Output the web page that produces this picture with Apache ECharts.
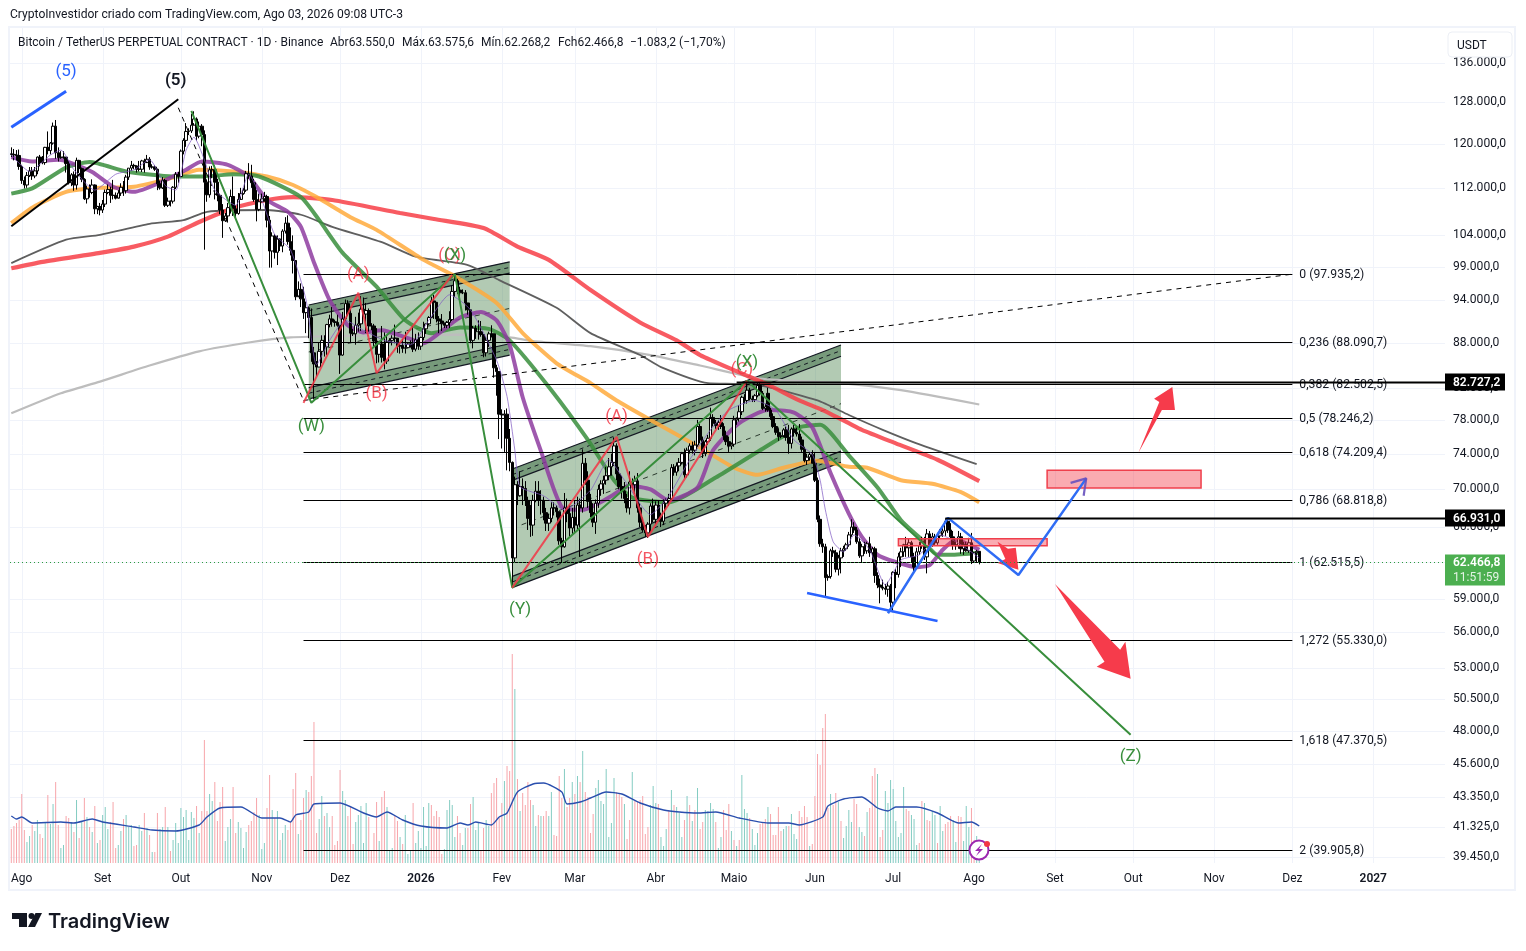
<!DOCTYPE html>
<html><head><meta charset="utf-8">
<script src="https://cdn.jsdelivr.net/npm/echarts@6/dist/echarts.min.js"></script>
<style>html,body{margin:0;padding:0;background:#fff}#c{width:1526px;height:951px}</style>
</head><body><div id="c"></div>
<script>
// ---- time axis: one category per day from 2025-07-28
const barCount = 550;
const timeTickIndex = [4,35,65,96,126,157,188,216,247,277,308,338,369,400,430,461,491,522];
const timeTickLabels = ['Ago','Set','Out','Nov','Dez','2026','Fev','Mar','Abr','Maio','Jun','Jul','Ago','Set','Out','Nov','Dez','2027'];

// ---- price axis
const priceTicks = [136000,128000,120000,112000,104000,99000,94000,88000,82000,78000,74000,70000,66000,62500,59000,56000,53000,50500,48000,45600,43350,41325,39450];
const priceTickLabels = ['136.000,0','128.000,0','120.000,0','112.000,0','104.000,0','99.000,0','94.000,0','88.000,0','82.000,0','78.000,0','74.000,0','70.000,0','66.000,0','62.500,0','59.000,0','56.000,0','53.000,0','50.500,0','48.000,0','45.600,0','43.350,0','41.325,0','39.450,0'];

// ---- candles, thousand USDT
const opens = [118.1,118.0,117.9,117.8,
115.8,113.3,112.5,114.2,115.0,114.1,115.0,117.5,116.5,116.5,119.3,118.7,120.1,123.3,118.3,117.4,117.5,117.5,116.3,112.9,114.3,112.5,116.9,115.4,113.5,110.1,111.8,111.2,112.5,108.4,108.8,
108.2,109.2,111.2,111.7,110.7,110.7,110.2,111.1,112.1,111.5,113.9,115.5,116.0,115.9,115.3,115.3,116.8,116.5,117.1,115.7,115.7,115.3,112.7,112.0,113.3,109.0,109.7,109.7,112.1,114.4,
114.0,118.6,120.6,122.3,122.4,123.5,124.7,121.4,123.3,121.7,113.0,110.8,115.2,115.2,113.0,110.7,108.2,106.4,107.2,108.6,110.5,108.4,107.6,110.0,111.0,111.6,114.5,114.1,112.9,110.0,108.3,
109.6,110.1,110.5,106.5,101.5,103.9,101.3,103.4,102.3,104.7,106.0,103.0,101.6,100.0,94.5,95.6,94.2,92.2,92.9,91.5,86.6,85.1,84.7,86.8,88.3,87.4,90.5,91.3,90.9,90.8,
90.4,86.3,91.3,93.5,92.1,89.3,89.2,90.4,90.6,92.7,92.0,92.5,90.3,90.3,88.2,86.4,87.8,86.0,85.5,88.1,88.3,88.6,88.6,87.5,87.6,87.2,87.3,87.8,87.8,87.1,88.4,
87.5,88.7,89.9,90.6,91.5,93.9,93.7,91.3,91.0,90.6,90.4,90.8,91.2,95.3,96.9,95.5,95.1,95.1,93.6,92.6,88.3,90.0,89.5,89.5,89.1,86.6,88.3,89.2,89.2,84.6,84.1,
78.7,78.6,78.7,75.8,73.0,62.9,70.5,69.3,70.3,70.1,68.8,66.9,66.2,68.8,69.8,68.8,68.8,67.5,66.4,66.9,68.0,68.0,67.6,64.6,64.0,68.0,67.4,65.9,
67.0,66.2,68.3,68.0,72.9,71,68.7,67.5,66.5,68.5,70,70.6,71,71.5,72.5,73,74.9,71.7,70.3,69.8,69,68,70.8,70.5,70.9,68,66.5,65.7,65.4,66.3,68.2,
66.8,68.3,67,66.6,68.5,68.8,69,72.4,71.9,72.6,73,74,71.6,74.4,74.9,74.4,75,77.2,75.6,74,75.4,75.8,78.3,77.6,77.3,77.7,77.2,76.1,75.4,74.9,
75.1,78,78.2,79,80.8,80.4,81.7,80.6,80.5,81,82.3,81.3,79.4,81.3,79.2,78.4,77.2,76.5,76,76.1,76.8,75.9,75.2,76.9,76.5,76.3,75.6,74.5,73.2,73.6,73.9,
72.9,71,66.8,64.3,64,61,61.1,63.6,63.4,61.8,62.9,63.6,63.8,64.2,65.2,66,65.7,64.5,63.1,64,63.6,64.3,63.4,63.8,61.2,60.3,60.1,60,59.9,60.2,
58.7,61.5,61.3,63,63.5,64.2,63.9,64.4,63,62,63.5,64.1,64.5,63,65.3,64.2,65,64.4,65.1,65.4,65.6,66.6,65.7,65,64.2,64.1,65,63.8,64.2,63.6,64.4,
62.6,63.4,63.55];
const highs = [119.3,119.0,118.8,118.9,
116.1,114.0,114.8,115.7,115.7,115.7,117.6,117.9,117.7,119.4,122.3,120.3,124.0,124.5,119.3,118.6,118.6,117.5,116.8,114.6,114.9,117.4,117.0,115.6,113.7,112.4,112.6,113.5,112.6,108.9,109.4,
109.9,111.7,112.6,112.2,113.4,111.2,111.6,112.8,113.2,114.3,115.5,116.8,116.3,116.0,116.8,117.0,117.2,117.9,117.5,116.2,116.0,115.4,113.3,113.9,113.6,110.3,109.8,112.3,114.8,114.8,
118.9,121.0,123.9,122.9,125.7,126.2,125.0,124.2,123.7,122.5,113.5,115.8,115.9,116.0,113.6,111.0,109.2,107.7,109.4,111.7,114.0,109.0,111.1,112.0,112.0,115.0,116.4,116.1,113.6,111.6,111.0,
111.0,111.3,110.8,107.2,104.5,104.2,104.0,103.5,105.0,107.0,107.3,105.3,104.0,99.5,96.8,96.5,96.0,93.8,93.1,92.8,87.4,85.5,88.0,89.0,89.0,90.6,91.9,93.0,91.2,91.9,
90.4,92.3,94.1,94.0,92.7,89.9,91.6,92.2,94.6,94.4,93.6,92.8,90.7,90.6,90.0,88.2,90.3,89.4,89.0,88.6,89.0,90.5,88.0,88.0,88.5,89.5,87.9,88.3,90.3,89.2,89.4,
88.8,90.9,90.6,91.7,94.5,94.8,93.5,91.7,92.0,90.8,91.0,92.4,96.2,97.9,97.2,96.0,95.6,95.5,93.3,92.7,90.3,90.4,91.1,91.0,89.1,88.8,89.5,90.4,88.7,85.0,84.0,
79.3,79.2,79.4,76.9,73.1,71.4,70.9,72.0,71.2,70.9,69.2,68.3,69.4,70.9,70.9,69.9,69.2,68.0,67.4,68.6,68.6,68.3,67.6,64.9,69.6,69.0,68.3,68.0,
68.8,69.2,69,74.5,73.5,72,69.5,68.5,68.9,70.5,71,71.5,72.5,73.5,74,75.9,75.2,72.5,71.5,70.8,69.5,72,71.2,71.5,71.8,68.5,67,66.2,66.5,68.5,69,
68.7,68.8,67.5,68.9,69,69.5,72.8,72.8,73,73.5,74.2,74.6,74.7,75.2,75.4,75.5,78,77.5,76,75.6,76.2,79.5,78.7,78,78,78.6,77.6,76.7,76,75.3,
78.5,78.3,79.8,81,81.2,82.9,82,81,81.2,82.7,82.6,81.6,80,82,79.5,78.8,77.6,77,76.5,77,77.2,77.4,77.1,77.4,77.2,77.5,76,74.8,74,74.2,74.4,
74.2,71.3,67.2,64.8,64.3,61.3,63.8,64,63.7,63.2,63.9,64.1,64.4,65.5,66.8,66.5,66,64.9,64.3,64.5,64.5,65,64,64,61.5,60.9,60.8,60.4,60.6,60.4,
61.6,61.8,63.4,63.9,64.3,65,64.8,64.6,63.4,63.9,64.5,65,65,65.8,65.6,65.4,65.3,65.4,65.8,65.9,66.9,66.9,66.4,65.6,64.6,65.6,65.4,64.5,64.5,64.9,65.4,
63.5,63.7,63.58];
const lows = [117.5,116.9,116.8,115.2,
112.7,111.9,112.0,113.9,113.4,113.7,114.4,115.8,116.2,116.1,118.0,118.0,119.8,117.2,116.7,117.2,117.2,114.7,112.6,112.3,111.5,111.7,114.6,113.0,109.9,109.3,110.3,110.9,107.5,107.5,107.3,
107.7,108.7,110.9,109.4,110.0,110.0,110.3,110.6,110.6,111.0,113.4,115.0,115.3,114.7,114.9,114.8,114.7,116.7,115.2,115.4,115.0,111.6,111.7,111.8,108.7,108.7,108.8,109.3,111.8,112.9,
113.9,118.0,119.4,121.6,122.0,123.9,120.6,121.0,119.5,101.7,109.6,110.3,113.7,110.0,109.7,107.5,103.6,106.2,106.2,107.6,107.2,106.7,107.4,110.5,110.8,111.3,113.6,112.0,109.6,106.3,108.0,
109.5,109.6,105.3,98.9,98.9,100.3,99.3,101.5,101.3,104.3,102.5,100.8,98.0,94.0,94.7,93.0,91.3,89.3,88.6,85.4,80.6,83.5,84.7,85.2,86.1,86.3,90.1,90.2,90.2,90.2,
83.8,86.2,91.0,91.7,88.0,88.9,87.7,89.5,89.6,91.6,89.3,89.5,89.7,87.5,85.2,85.3,85.3,84.4,85.1,87.9,87.6,87.9,86.6,86.5,86.6,86.5,87.2,87.3,86.7,86.8,87.0,
87.0,88.3,89.2,90.4,91.4,91.3,90.8,89.3,89.6,90.0,90.0,90.0,91.0,94.5,94.9,94.2,94.9,92.5,91.9,87.9,87.2,88.5,88.4,88.8,86.0,86.1,87.4,88.7,83.3,81.0,75.7,
74.6,74.2,72.1,72.0,60.0,62.4,68.3,69.2,68.3,68.2,65.7,65.0,65.1,68.6,68.2,67.3,66.7,65.6,65.6,66.5,67.2,67.0,64.2,62.5,63.9,66.5,65.0,65.2,
65.5,65.8,63,67.5,70.5,68,67,66,65.3,68,69.3,69.5,70.5,71,71.5,72.6,71,70,69,68.5,67.5,67.3,70,69.5,67.5,66,65.5,65,64.9,65.5,66.5,
66.3,66.7,66,66.2,67.8,68.2,68.8,71.5,71.5,72,72.8,71.2,71.3,74,74,73.8,74.8,75.2,73.5,73.7,75,75.5,77.2,76.9,76.8,76.9,75.6,75,74.2,74.5,
74.8,77.4,77.8,78.6,80,80,80.4,80.2,80.2,80.8,81,79.2,79,79,78,77,76.2,75.5,75.8,75.9,75.5,74,74.6,76,76,75.3,74.2,73,72.7,73.2,72.9,
70.8,66.5,64,63.4,59.1,60.7,60.9,63,61.5,61.2,61.4,63,63.6,64,65,65.4,64.3,62.9,62.5,63.3,63.3,63,62.5,60.5,60,58.6,59.8,59.4,59.2,58,
57.8,60,61,62,63,63,63,62.5,61.5,61.8,63.2,63.8,62.7,61.4,63.9,64,64.2,64.2,64.8,65,65.1,65.4,64.8,63.7,63.7,63.8,63.3,63.2,63.5,63.4,62.3,
62.4,62.4,62.27];
const closes = [118.0,117.9,117.8,115.8,
113.3,112.5,114.2,115.0,114.1,115.0,117.5,116.5,116.5,119.3,118.7,120.1,123.3,118.3,117.4,117.5,117.5,116.3,112.9,114.3,112.5,116.9,115.4,113.5,110.1,111.8,111.2,112.5,108.4,108.8,108.2,
109.2,111.2,111.7,110.7,110.7,110.2,111.1,112.1,111.5,113.9,115.5,116.0,115.9,115.3,115.3,116.8,116.5,117.1,115.7,115.7,115.3,112.7,112.0,113.3,109.0,109.7,109.7,112.1,114.4,114.0,
118.6,120.6,122.3,122.4,123.5,124.7,121.4,123.3,121.7,113.0,110.8,115.2,115.2,113.0,110.7,108.2,106.4,107.2,108.6,110.5,108.4,107.6,110.0,111.0,111.6,114.5,114.1,112.9,110.0,108.3,109.6,
110.1,110.5,106.5,101.5,103.9,101.3,103.4,102.3,104.7,106.0,103.0,101.6,100.0,94.5,95.6,94.2,92.2,92.9,91.5,86.6,85.1,84.7,86.8,88.3,87.4,90.5,91.3,90.9,90.8,90.4,
86.3,91.3,93.5,92.1,89.3,89.2,90.4,90.6,92.7,92.0,92.5,90.3,90.3,88.2,86.4,87.8,86.0,85.5,88.1,88.3,88.6,88.6,87.5,87.6,87.2,87.3,87.8,87.8,87.1,88.4,87.5,
88.7,89.9,90.6,91.5,93.9,93.7,91.3,91.0,90.6,90.4,90.8,91.2,95.3,96.9,95.5,95.1,95.1,93.6,92.6,88.3,90.0,89.5,89.5,89.1,86.6,88.3,89.2,89.2,84.6,84.1,78.7,
78.6,78.7,75.8,73.0,62.9,70.5,69.3,70.3,70.1,68.8,66.9,66.2,68.8,69.8,68.8,68.8,67.5,66.4,66.9,68.0,68.0,67.6,64.6,64.0,68.0,67.4,65.9,67.0,
66.2,68.3,68,72.9,71,68.7,67.5,66.5,68.5,70,70.6,71,71.5,72.5,73,74.9,71.7,70.3,69.8,69,68,70.8,70.5,70.9,68,66.5,65.7,65.4,66.3,68.2,66.8,
68.3,67,66.6,68.5,68.8,69,72.4,71.9,72.6,73,74,71.6,74.4,74.9,74.4,75,77.2,75.6,74,75.4,75.8,78.3,77.6,77.3,77.7,77.2,76.1,75.4,74.9,75.1,
78,78.2,79,80.8,80.4,81.7,80.6,80.5,81,82.3,81.3,79.4,79.6,79.2,78.4,77.2,76.5,76,76.1,76.8,75.9,75.2,76.9,76.5,76.3,75.6,74.5,73.2,73.6,73.9,72.9,
71,66.8,64.3,64,61,61.1,63.6,63.4,61.8,62.9,63.6,63.8,64.2,65.2,66,65.7,64.5,63.1,64,63.6,64.3,63.4,63.8,61.2,60.3,60.1,60,59.9,60.2,58.7,
61.5,61.3,63,63.5,64.2,63.9,64.4,63,62,63.5,64.1,64.5,63,65.3,64.2,65,64.4,65.1,65.4,65.6,66.6,65.7,65,64.2,64.1,65,63.8,64.2,63.6,64.4,62.6,
63.4,63.55,62.467];

// ---- volume, arbitrary units; negative = pink (down) bar, positive = teal (up) bar
const volumes = [-34,-37,-40,-43,-69,-33,21,27,-38,32,43,-29,-25,40,-68,39,59,-81,-38,15,18,-47,-45,41,-31,63,-25,41,-65,46,-36,31,-57,20,-23,48,56,34,-41,-61,
-15,18,32,-44,48,36,38,-17,-18,38,32,-50,35,-28,11,-11,-50,34,36,-56,36,-12,23,40,20,55,46,53,23,51,45,-57,30,-52,-123,-52,69,62,-81,-42,
-61,-76,22,36,44,-76,-30,41,35,15,31,-38,-42,-51,-65,48,14,20,-55,-88,53,-45,52,-23,30,38,-33,-41,-74,-90,29,-43,-65,73,-71,-87,-141,-30,44,67,
-47,50,36,-47,-18,-22,-93,72,63,-47,-57,-19,41,48,57,20,60,-46,-12,-30,-61,22,-66,-72,56,12,15,-47,-42,26,-19,48,9,12,-60,20,32,15,56,17,
60,-58,-47,-52,-46,-9,14,53,63,58,26,-47,-30,18,35,-35,-59,66,33,40,-12,-35,43,37,-70,-80,-85,-45,-60,82,-97,-92,-209,174,-84,52,-70,-58,
-81,-63,58,37,-48,47,-47,-52,47,71,-28,-27,-87,-65,94,-56,-65,81,-69,87,-81,112,-71,-66,-30,-49,75,83,62,59,94,26,40,85,-71,-69,-66,59,-24,-43,
91,-63,-61,-63,-67,-29,-36,58,77,60,-59,26,17,34,-53,73,-58,56,50,26,-43,67,-58,42,-53,75,-34,-41,53,52,60,54,-41,15,26,-53,-33,-59,32,-23,
17,-23,88,54,50,-45,34,18,30,-39,-40,-44,56,-49,-28,-28,-56,-32,34,37,-37,49,29,24,-52,-46,-57,-46,17,-19,-67,-109,-98,-135,-149,-55,69,-58,-70,61,
-42,25,37,53,41,-64,-59,36,31,-27,51,-55,-87,-95,89,-26,-33,72,60,83,74,42,26,30,76,-54,-52,48,44,18,-20,-62,60,-43,-42,52,48,-20,57,32,
-39,-41,-47,43,21,-47,-46,22,57,36,-55,-23,27,16];
const volumeAverage = [[0,47],[2,44],[4,46],[8,40],[19,41],[24,40],[31,44],[35,41],[47,36],[54,33],[63,32],[72,38],[75,46],[80,55],[88,56],[96,45],[103,45],[107,41],[109,48],[114,51],[116,59],[126,60],[135,50],[140,46],[144,51],[150,43],[157,37],[167,35],[172,40],[175,38],[178,41],[184,38],[187,46],[190,50],[194,71],[200,79],[204,80],[211,71],[213,59],[218,61],[222,65],[228,71],[234,69],[241,60],[250,53],[256,51],[263,50],[270,51],[279,45],[290,40],[298,40],[302,38],[311,46],[313,57],[319,64],[326,66],[332,55],[336,52],[339,56],[347,56],[355,50],[363,40],[368,41],[371,37]];

// ---- moving averages, [day index, thousand USDT]
const maRed = [[0,98.8],[12,99.8],[34,101.2],[47,102.2],[60,103.8],[72,106.2],[85,108.5],[98,109.9],[108,110.4],[123,109.9],[149,107.7],[162,106.7],[181,105.2],[194,102.2],[206,100.1],[222,95.5],[241,90.8],[255,88.3],[264,86.3],[279,84.0],[290,82.4],[302,80.4],[311,79.2],[321,77.6],[326,76.8],[339,75.2],[355,73.3],[371,70.9]];
const maDark = [[0,99.6],[21,103.3],[34,104.1],[53,105.9],[66,106.5],[75,107.9],[98,108.2],[111,107.4],[123,105.4],[142,102.9],[155,100.6],[175,99.3],[187,97.0],[209,92.9],[222,89.3],[241,86.3],[249,84.7],[267,82.6],[278,82.5],[290,82.1],[309,80.4],[321,78.6],[334,76.8],[347,75.2],[370,72.8]];
const maOrange = [[0,106.0],[8,108.6],[21,111.3],[34,112.0],[47,112.2],[62,113.8],[72,115.2],[85,114.9],[98,114.0],[108,112.5],[117,110.4],[130,107.0],[140,104.9],[158,100.1],[169,97.8],[186,93.6],[196,89.3],[209,85.2],[222,82.6],[232,80.4],[245,78.0],[264,74.7],[277,72.4],[286,71.6],[296,72.4],[309,73.2],[321,72.5],[328,72.4],[341,71.0],[353,70.6],[364,69.7],[371,68.6]];
const maGreen = [[0,111.0],[8,111.9],[21,115.6],[30,116.6],[44,114.9],[62,114.0],[74,114.0],[85,114.4],[95,114.0],[111,110.4],[118,106.5],[127,101.2],[140,96.0],[151,91.1],[161,89.3],[172,90.1],[183,89.9],[191,88.3],[207,81.7],[221,75.6],[231,71.0],[238,69.1],[252,68.6],[270,71.3],[287,74.4],[302,77.1],[310,77.4],[321,73.8],[332,70.2],[341,66.7],[349,64.7],[355,63.2],[360,63.2],[371,63.4]];
const maPurple = [[0,117.5],[8,116.7],[18,117.0],[22,116.6],[31,114.8],[39,112.2],[47,111.3],[57,112.9],[67,115.2],[73,116.7],[83,116.1],[91,114.0],[98,109.9],[106,107.9],[111,105.4],[116,99.7],[122,94.0],[129,90.4],[135,89.4],[142,89.7],[152,88.6],[158,87.9],[164,89.3],[172,91.5],[180,92.3],[186,91.1],[191,87.7],[196,80.8],[203,74.3],[211,68.1],[219,67.8],[229,69.1],[237,70.4],[245,70.0],[252,68.8],[263,70.2],[269,74.4],[279,77.6],[290,79.2],[300,78.9],[307,77.1],[314,71.8],[321,67.4],[326,65.0],[332,63.2],[339,62.5],[347,62.0],[352,62.2],[357,63.7],[362,64.7],[371,63.7]];
const maThinPurple = [[0,117.9],[7,114.9],[15,117.9],[19,118.8],[24,115.2],[32,111.6],[40,114.4],[47,115.2],[53,117],[59,112.4],[63,111.6],[67,118.8],[70,121.2],[74,117],[78,111.6],[86,109],[91,114.4],[96,109.9],[101,104.1],[107,101.7],[113,94.0],[117,85],[122,88.3],[128,91.1],[135,89.7],[143,88.3],[153,87.7],[160,91.1],[168,94.8],[176,92.6],[186,85.6],[190,80.9],[193,74.4],[195,70.3],[204,69.3],[212,67.8],[222,69.9],[229,73.3],[235,71],[245,67.3],[252,69.3],[260,73.3],[268,76.8],[275,79.2],[285,80.4],[293,79.2],[300,75.6],[307,73.9],[310,71],[312,67.8],[315,64.5],[319,63.5],[323,65.2],[329,63.7],[335,60.3],[341,62.7],[348,63.2],[356,65.2],[364,64.2],[371,62.9]];
const maLightGrey = [[0,78.8],[19,81.3],[34,82.8],[53,84.9],[72,86.8],[91,88.0],[107,88.7],[126,88.9],[171,89.1],[191,88.7],[200,88.2],[222,87.5],[245,86.3],[264,84.9],[287,83.2],[318,82.6],[341,81.7],[371,79.9]];

// ---- Fibonacci levels
const fibPrices = [97935.2,88090.7,82502.5,78246.2,74209.4,68818.8,62515.5,55330.0,47370.5,39905.8];
const fibLabels = ['0 (97.935,2)','0,236 (88.090,7)','0,382 (82.502,5)','0,5 (78.246,2)','0,618 (74.209,4)','0,786 (68.818,8)','1 (62.515,5)','1,272 (55.330,0)','1,618 (47.370,5)','2 (39.905,8)'];
const fibStart = 112, fibEnd = 491;

// ---- price tags
const horizontalPrices = [82727.2,66931.0];
const horizontalStarts = [278,358];
const horizontalLabels = ['82.727,2','66.931,0'];
const lastPrice = 62466.8, lastPriceLabel = '62.466,8', countdownLabel = '11:51:59';

// ---- drawings, [day index, thousand USDT]
const blackImpulse = [[0,105.5],[63.6,128.6]];
const blueImpulse = [[0,123.1],[21,130.2]];
const dashedDown = [[64,126.9],[112,80.4]];
const dashedUp = [[112,80.4],[491,97.9]];
const greenWave = [[69,126.3],[115,80.1],[170,97.9],[192,60.05],[282,82.9],[429,47.75]];
const redWaveOne = [[112,80.1],[133,95.1],[140,83.9],[169,97.8]];
const redWaveTwo = [[192,60.05],[232,75.97],[244,65.0],[282,82.9]];
const wedgeLine = [[305.4,59.55],[355.2,57.0]];
const blueZigzag = [[336,57.7],[358.6,66.95],[385.8,61.25],[411.9,71.2]];
const arrowHead = [[406,70.7],[411.9,71.2],[410.5,69.3]];

const channelStart = [114,192], channelEnd = [191,318];
const channelTopStart = [93.3,72.25], channelTopEnd = [99.8,87.67];
const channelBottomStart = [80.6,60.05], channelBottomEnd = [86.3,73.0];

const zoneStart = [397,339.5], zoneEnd = [456,397];
const zoneHigh = [72.1,64.8], zoneLow = [70.15,64.1];

const arrowSmall = [[377.8,64.5],[381.7,63.8],[384.7,63.9],[386.2,61.75],[378.2,62.4],[381.3,62.8]];
const arrowBig = [[399.7,60.4],[424.9,54.5],[427.3,55.2],[429.2,52.1],[415.7,53.08],[419.2,53.5]];
const arrowUp = [[431.9,74.1],[440.7,79.2],[445.7,79.2],[445.3,82.1],[437.6,80.6],[439.9,80.2]];

const waveTexts = ['(5)','(5)','(A)','(B)','(C)','(X)','(W)','(Y)','(A)','(B)','(C)','(X)','(Z)'];
const waveIndex = [21,63,133,140,167.5,170,115,195,232,244,280,282,429];
const wavePrice = [134.6,132.7,98.1,81.5,101,101,77.4,58.2,78.6,62.9,84.6,85.6,46.3];
const waveKinds = ['blue','black','red','red','red','green','green','green','red','red','red','green','green'];

// ======================================================================
const FONT = 'Roboto, "Noto Sans", sans-serif';
const INK = '#131722', GRID = '#f0f3fa';
const waveColors = {blue:'#2962ff',black:'#131722',red:'rgba(242,54,69,.85)',green:'#388e3c'};
const k = a => a.map(p => [p[0], p[1]*1000]);
const crisp = v => Math.round(v)+0.5;
const categories = Array.from({length:barCount},(_,i)=>{const d=new Date(Date.UTC(2025,6,28+i));return d.toISOString().slice(0,10);});
const tickLookup = {}; timeTickIndex.forEach((ix,j)=>tickLookup[ix]=timeTickLabels[j]);
const text = (t,x,y,font,fill,align) => ({type:'text',style:{text:t,x,y,font,fill:fill||INK,align:align||'left',verticalAlign:'middle'}});
const seg = (x1,y1,x2,y2,stroke,lw,dash) => ({type:'line',shape:{x1,y1,x2,y2},style:{stroke,lineWidth:lw,lineDash:dash||null}});
const soft = {smooth:0.2};

function line(name,data,color,width,z,extra){
  return Object.assign({type:'line',name,data:k(data),showSymbol:false,symbol:'none',silent:true,z,
    lineStyle:{color,width},clip:false},extra||{});
}
function custom(name,data,z,renderItem,yAxisIndex){
  return {type:'custom',name,data,z,silent:true,clip:false,encode:{x:0,y:1},renderItem,yAxisIndex:yAxisIndex||0};
}
const polygon = (name,pts,fill,z)=>custom(name,k(pts).slice(0,1),z,(p,api)=>({
  type:'polygon',shape:{points:k(pts).map(q=>api.coord(q))},style:{fill}}));

const series = [
  custom('gridX',timeTickIndex.map(i=>[i,60000]),1,(p,api)=>{
    const x=crisp(api.coord([timeTickIndex[p.dataIndex],60000])[0]);
    return seg(x,p.coordSys.y,x,p.coordSys.y+p.coordSys.height,GRID,1);
  }),
  custom('gridY',priceTicks.map(v=>[0,v]),1,(p,api)=>{
    const y=crisp(api.coord([0,priceTicks[p.dataIndex]])[1]), c=p.coordSys;
    return {type:'group',children:[seg(c.x,y,c.x+c.width,y,GRID,1),
      text(priceTickLabels[p.dataIndex],c.x+c.width+8,y-1,'12.1px '+FONT,INK)]};
  }),
  {type:'bar',name:'Volume',yAxisIndex:1,barWidth:1,z:2,silent:true,
    data:volumes.map(v=>({value:Math.abs(v),itemStyle:{color:v<0?'#f7a5aa':'#84ccc2'}}))},
  {type:'line',name:'VolumeAverage',yAxisIndex:1,data:volumeAverage,symbol:'none',silent:true,z:3,smooth:0.2,lineStyle:{color:'#2a4fae',width:1.4}},
  custom('channels',channelStart.map((s,j)=>[s,channelTopStart[j]*1000]),3,(p,api)=>{
    const j=p.dataIndex, c=(i,v)=>api.coord([i,v*1000]);
    const s=channelStart[j],e=channelEnd[j],band=1.0178;
    const ts=channelTopStart[j],te=channelTopEnd[j],bs=channelBottomStart[j],be=channelBottomEnd[j];
    const poly=(a,b,cc,d,fill)=>({type:'polygon',shape:{points:[a,b,cc,d]},style:{fill}});
    const A=c(s,ts),B=c(e,te),C=c(e,be),D=c(s,bs);
    const A2=c(s,ts/band),B2=c(e,te/band),C2=c(e,be*band),D2=c(s,bs*band);
    const Am=c(s,ts/Math.sqrt(band)),Bm=c(e,te/Math.sqrt(band));
    const Cm=c(e,be*Math.sqrt(band)),Dm=c(s,bs*Math.sqrt(band));
    const Mm=c(s,Math.sqrt(ts*bs)),Nm=c(e,Math.sqrt(te*be));
    const l=(a,b,w,d,col)=>seg(a[0],a[1],b[0],b[1],col||'#131722',w,d);
    const light='rgba(76,131,78,.43)', deep='rgba(60,105,68,.5)';
    return {type:'group',children:[poly(A,B,C,D,light),poly(A,B,B2,A2,deep),poly(D2,C2,C,D,deep),
      l(A,B,1.2),l(A2,B2,1.2),l(D,C,1.2),l(D2,C2,1.2),
      l(Am,Bm,1,[4,4]),l(Dm,Cm,1,[4,4]),l(Mm,Nm,1,[5,5],'#2b3a2e')]};
  }),
  line('maLightGrey',maLightGrey,'#bdbdbd',2.2,4,soft),
  line('maDark',maDark,'#5f5f5f',1.8,4,soft),
  line('maRed',maRed,'rgba(247,62,70,.85)',4.2,4,soft),
  line('maOrange',maOrange,'rgba(255,170,60,.85)',4,4,soft),
  line('maGreen',maGreen,'rgba(56,142,60,.85)',4,4,soft),
  line('maPurple',maPurple,'rgba(142,60,160,.85)',4,4,soft),
  {type:'candlestick',name:'BTCUSDT.P',barWidth:3,z:5,silent:true,
    data:opens.map((o,i)=>[o*1000,closes[i]*1000,lows[i]*1000,highs[i]*1000]),
    itemStyle:{color:'#ffffff',color0:'#000000',borderColor:'#000000',borderColor0:'#000000',borderWidth:1}},
  line('maThinPurple',maThinPurple,'rgba(126,87,194,.7)',1,6,soft),
  custom('fib',fibPrices.map(v=>[fibStart,v]),6,(p,api)=>{
    const v=fibPrices[p.dataIndex], a=api.coord([fibStart,v]), b=api.coord([fibEnd,v]);
    const y=crisp(a[1]);
    return {type:'group',children:[seg(a[0],y,b[0],y,'#000',1),
      text(fibLabels[p.dataIndex],b[0]+7,y,'12.2px '+FONT,INK)]};
  }),
  line('dashedDown',dashedDown,'#000',1,6,{lineStyle:{color:'#000',width:1,type:[5,5]}}),
  line('dashedUp',dashedUp,'#000',1,6,{lineStyle:{color:'#000',width:1,type:[5,5]}}),
  line('blackImpulse',blackImpulse,'#000',2,7),
  line('blueImpulse',blueImpulse,'#2962ff',3,7),
  line('greenWave',greenWave,'#388e3c',2,7),
  line('redWaveOne',redWaveOne,'rgba(242,54,69,.85)',2,7),
  line('redWaveTwo',redWaveTwo,'rgba(242,54,69,.85)',2,7),
  custom('zones',zoneStart.map((s,j)=>[s,zoneHigh[j]*1000]),7,(p,api)=>{
    const j=p.dataIndex,a=api.coord([zoneStart[j],zoneHigh[j]*1000]),b=api.coord([zoneEnd[j],zoneLow[j]*1000]);
    return {type:'rect',shape:{x:a[0],y:a[1],width:b[0]-a[0],height:b[1]-a[1]},style:{fill:'rgba(242,54,69,.42)',stroke:'#ef3f4c',lineWidth:1.5}};
  }),
  line('wedgeLine',wedgeLine,'#2962ff',2.5,8),
  line('blueZigzag',blueZigzag,'#2f6cf5',2.5,8),
  line('arrowHead',arrowHead,'rgba(103,80,190,.9)',2.2,9),
  polygon('arrowSmall',arrowSmall,'#f63b4b',8),
  polygon('arrowBig',arrowBig,'#f63b4b',8),
  polygon('arrowUp',arrowUp,'#f63b4b',8),
  custom('waveTexts',waveIndex.map((i,j)=>[i,wavePrice[j]*1000]),9,(p,api)=>{
    const j=p.dataIndex,c=api.coord([waveIndex[j],wavePrice[j]*1000]);
    return text(waveTexts[j],c[0],c[1]+2,(j===1?'600 ':'')+'17px '+FONT,waveColors[waveKinds[j]],'center');
  }),
  custom('horizontal',horizontalPrices.map((v,j)=>[horizontalStarts[j],v]),10,(p,api)=>{
    const j=p.dataIndex,v=horizontalPrices[j],c=api.coord([horizontalStarts[j],v]),g=p.coordSys,y=crisp(c[1]);
    return {type:'group',children:[seg(c[0],y,g.x+g.width,y,'#000',2),
      {type:'rect',shape:{x:g.x+g.width,y:y-9,width:60,height:17},style:{fill:'#000'}},
      text(horizontalLabels[j],g.x+g.width+8,y,'600 12px '+FONT,'#fff')]};
  }),
  custom('lastPrice',[[0,lastPrice]],10,(p,api)=>{
    const c=api.coord([0,lastPrice]),g=p.coordSys,y=crisp(c[1]);
    return {type:'group',children:[seg(g.x,y,g.x+g.width,y,'#2e9b3f',1,[1,3]),
      {type:'rect',shape:{x:g.x+g.width,y:y-8,width:60,height:31},style:{fill:'#4caf50'}},
      text(lastPriceLabel,g.x+g.width+8,y,'600 12px '+FONT,'#fff'),
      text(countdownLabel,g.x+g.width+8,y+15,'12px '+FONT,'rgba(255,255,255,.85)')]};
  })
];

const chart = echarts.init(document.getElementById('c'),null,{renderer:'canvas'});
const legendY = 43, legendFont = '12px '+FONT;
const legendText = (t,x)=>({type:'text',z:100,style:{text:t,x,y:legendY,font:legendFont,fill:INK,verticalAlign:'middle'}});
chart.setOption({
  animation:false,
  backgroundColor:'#ffffff',
  grid:{left:10,right:81,top:28,height:835,containLabel:false},
  xAxis:{type:'category',data:categories,boundaryGap:true,
    axisLine:{show:false},axisTick:{show:false},splitLine:{show:false},
    axisLabel:{interval:i=>tickLookup[i]!==undefined,margin:10,color:INK,fontFamily:'Roboto',fontSize:12,
      formatter:(v,i)=>{const t=tickLookup[i];return /^20/.test(t)?'{y|'+t+'}':t;},
      rich:{y:{fontWeight:600,color:INK,fontFamily:'Roboto',fontSize:12}}}},
  yAxis:[
    {type:'log',logBase:10,min:39090,max:143700,position:'right',scale:true,
      axisLine:{show:false},axisTick:{show:false},axisLabel:{show:false},splitLine:{show:false}},
    {type:'value',min:0,max:835,show:false,splitLine:{show:false}}
  ],
  series,
  graphic:{elements:[
    {type:'rect',z:0,shape:{x:9,y:27,width:1506,height:863},style:{fill:'none',stroke:'#f0f3fa',lineWidth:2},silent:true},
    {type:'text',z:100,style:{text:'CryptoInvestidor criado com TradingView.com, Ago 03, 2026 09:08 UTC-3',x:10,y:15,font:'12.1px '+FONT,fill:INK,verticalAlign:'middle'}},
    legendText('Bitcoin / TetherUS PERPETUAL CONTRACT · 1D · Binance',18),
    legendText('Abr63.550,0',330),
    legendText('Máx.63.575,6',402),
    legendText('Mín.62.268,2',481),
    legendText('Fch62.466,8',558),
    legendText('−1.083,2 (−1,70%)',630),
    {type:'rect',z:100,shape:{x:1448,y:32,width:64,height:25,r:4},style:{fill:'#fff',stroke:'#eceff5',lineWidth:1}},
    {type:'text',z:101,style:{text:'USDT',x:1457,y:45.5,font:'12px '+FONT,fill:INK,verticalAlign:'middle'}},
    // TradingView logo
    {type:'polygon',z:100,shape:{points:[[12,913],[27,913],[27,927],[19,927],[19,919],[12,919]]},style:{fill:'#131722'}},
    {type:'circle',z:100,shape:{cx:31.5,cy:916,r:3},style:{fill:'#131722'}},
    {type:'polygon',z:100,shape:{points:[[35.5,913],[42,913],[35,927],[28,927]]},style:{fill:'#131722'}},
    {type:'text',z:100,style:{text:'TradingView',x:48,y:922,font:'600 20px Inter, '+FONT,fill:'#131722',verticalAlign:'middle'}},
    // bolt badge
    {type:'circle',z:100,shape:{cx:979,cy:850,r:9.5},style:{fill:'#fff',stroke:'#9c27b0',lineWidth:2}},
    {type:'polygon',z:101,shape:{points:[[982,844],[975,851],[979,851],[976,856],[983,849],[979,849]]},style:{fill:'#9c27b0'}},
    {type:'circle',z:101,shape:{cx:987,cy:844,r:3},style:{fill:'#f23645'}}
  ]}
});
</script></body></html>
